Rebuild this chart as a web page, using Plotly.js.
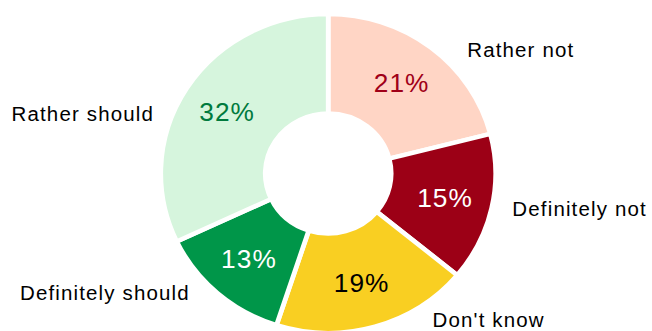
<!DOCTYPE html>
<html>
<head>
<meta charset="utf-8">
<script src="https://cdn.plot.ly/plotly-3.0.1.min.js"></script>
<style>
html,body{margin:0;padding:0;overflow:hidden;background:#fff;width:652px;height:331px;}
#chart{width:621px;height:340px;transform:scaleX(1.04992);transform-origin:0 0;}
text.annotation-text{letter-spacing:1.1px;}
text.slicetext{letter-spacing:1px;}
</style>
</head>
<body>
<div id="chart"></div>
<script>
var categories = ["Rather not", "Definitely not", "Don't know", "Definitely should", "Rather should"];
var shares = [21, 15, 19, 13, 32];
var sliceColors = ["#FFD5C5", "#9C0016", "#F9CF22", "#009649", "#D6F5DD"];
var pctColors = ["#A00018", "#FFFFFF", "#000000", "#FFFFFF", "#007A3D"];

var W = 621, H = 340;
var labelPos = [
  {x: 443.0, y: 50},
  {x: 485.8, y: 209},
  {x: 409.5, y: 319.5},
  {x: 17.0, y: 292.5},
  {x: 8.6, y: 114}
];
var annotations = categories.map(function(c, i){
  var p = labelPos[i];
  return {
    text: c, showarrow: false, xref: "paper", yref: "paper",
    x: p.x / W, y: 1 - p.y / H, xanchor: "left", yanchor: "middle",
    font: {family: "Liberation Sans, Arial, sans-serif", size: 19.5, color: "#000"}
  };
});

var dom = {x: [153.1/W, 472.1/W], y: [7/H, 326/H]};

var ring = {
  type: "pie",
  labels: categories,
  values: shares,
  hole: 0.376,
  sort: false,
  direction: "clockwise",
  rotation: 0,
  marker: {colors: sliceColors, line: {color: "#FFFFFF", width: 4.5}},
  textinfo: "none",
  hoverinfo: "none",
  domain: dom
};

var pctText = {
  type: "pie",
  labels: categories,
  values: shares,
  hole: 0.43,
  sort: false,
  direction: "clockwise",
  rotation: 0,
  marker: {colors: categories.map(function(){return "rgba(0,0,0,0)";}), line: {width: 0}},
  texttemplate: "%{value}%",
  textposition: "inside",
  insidetextorientation: "horizontal",
  textfont: {family: "Liberation Sans, Arial, sans-serif", size: 25, color: pctColors},
  hoverinfo: "none",
  domain: dom
};

var layout = {
  width: W, height: H,
  margin: {l: 0, r: 0, t: 0, b: 0},
  showlegend: false,
  paper_bgcolor: "#FFFFFF",
  annotations: annotations
};

Plotly.newPlot("chart", [ring, pctText], layout, {displayModeBar: false, staticPlot: true});
</script>
</body>
</html>
